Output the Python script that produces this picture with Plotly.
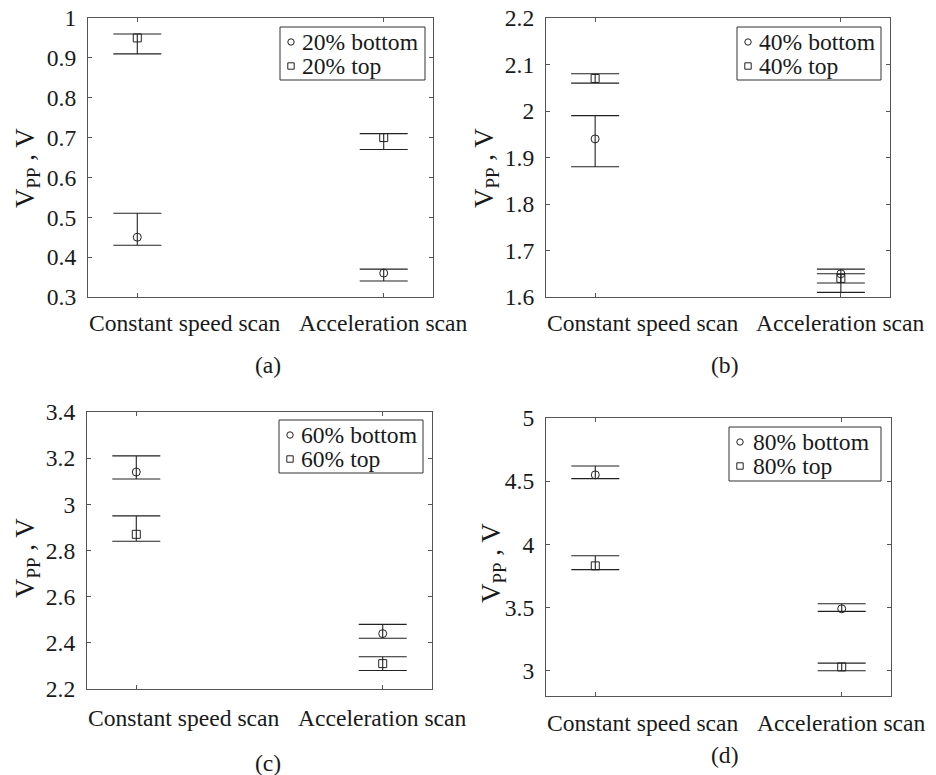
import plotly.graph_objects as go

# ---------------- data ----------------
categories = ["Constant speed scan", "Acceleration scan"]

a_bottom = [0.45, 0.36]
a_bottom_hi = [0.51, 0.37]
a_bottom_lo = [0.43, 0.34]
a_top = [0.95, 0.70]
a_top_hi = [0.96, 0.71]
a_top_lo = [0.91, 0.67]

b_bottom = [1.94, 1.65]
b_bottom_hi = [1.99, 1.66]
b_bottom_lo = [1.88, 1.63]
b_top = [2.07, 1.64]
b_top_hi = [2.08, 1.65]
b_top_lo = [2.06, 1.61]

c_bottom = [3.14, 2.44]
c_bottom_hi = [3.21, 2.48]
c_bottom_lo = [3.11, 2.42]
c_top = [2.87, 2.31]
c_top_hi = [2.95, 2.34]
c_top_lo = [2.84, 2.28]

d_bottom = [4.55, 3.49]
d_bottom_hi = [4.62, 3.53]
d_bottom_lo = [4.52, 3.47]
d_top = [3.83, 3.03]
d_top_hi = [3.91, 3.06]
d_top_lo = [3.80, 3.00]

levels = ["20%", "40%", "60%", "80%"]
panel_labels = ["(a)", "(b)", "(c)", "(d)"]
y_ranges = [[0.3, 1.0], [1.6, 2.2], [2.2, 3.4], [2.8, 5.0]]
y_dticks = [0.1, 0.1, 0.2, 0.5]
y_tick0 = [0.3, 1.6, 2.2, 3.0]

panels = [
    (a_bottom, a_bottom_hi, a_bottom_lo, a_top, a_top_hi, a_top_lo),
    (b_bottom, b_bottom_hi, b_bottom_lo, b_top, b_top_hi, b_top_lo),
    (c_bottom, c_bottom_hi, c_bottom_lo, c_top, c_top_hi, c_top_lo),
    (d_bottom, d_bottom_hi, d_bottom_lo, d_top, d_top_hi, d_top_lo),
]

# ---------------- layout geometry (window pixels) ----------------
W, H = 936, 775


def px(x):
    return x / W


def py(y):
    return 1 - y / H


# plot boxes: left, right, top, bottom
boxes = [(88, 433, 18, 297), (546, 890, 18, 297), (87, 432, 412, 689), (546, 891, 418, 696)]
# legend boxes: left, right, top, bottom
leg_boxes = [(280, 425, 27, 80), (737, 881, 27, 80), (279, 423, 420, 473), (729, 881, 427, 481)]
leg_text_dx = [20, 20, 20, 22]
ytitle_pos = [(27, 168), (486, 168), (27, 558), (493, 563)]
plabel_pos = [(268, 365), (725, 365), (268, 763), (725, 755)]
xlabel_gap = [26, 26, 29, 27]

FONT = "Liberation Serif"
FS = 23.6
AXC = "#555555"
MARKC = "#222222"
TXT = "#1a1a1a"

fig = go.Figure()
annotations = []
shapes = []
layout = {}

for i, (bot, bhi, blo, top, thi, tlo) in enumerate(panels):
    n = "" if i == 0 else str(i + 1)
    xa, ya = "x" + n, "y" + n
    names = [f"{levels[i]} bottom", f"{levels[i]} top"]
    fig.add_trace(go.Scatter(
        x=categories, y=bot, mode="markers", name=names[0],
        xaxis=xa, yaxis=ya, showlegend=False,
        marker=dict(symbol="circle-open", size=8, color=MARKC, line=dict(width=1, color=MARKC)),
        error_y=dict(type="data", symmetric=False,
                     array=[h - v for h, v in zip(bhi, bot)],
                     arrayminus=[v - l for v, l in zip(bot, blo)],
                     color=MARKC, thickness=1.1, width=24),
    ))
    fig.add_trace(go.Scatter(
        x=categories, y=top, mode="markers", name=names[1],
        xaxis=xa, yaxis=ya, showlegend=False,
        marker=dict(symbol="square-open", size=8, color=MARKC, line=dict(width=1, color=MARKC)),
        error_y=dict(type="data", symmetric=False,
                     array=[h - v for h, v in zip(thi, top)],
                     arrayminus=[v - l for v, l in zip(top, tlo)],
                     color=MARKC, thickness=1.1, width=24),
    ))

    L, R, T, B = boxes[i]
    layout["xaxis" + n] = dict(
        domain=[px(L), px(R)], anchor=ya, type="category",
        range=[-0.2, 1.2], showline=True, linecolor=AXC, linewidth=1,
        mirror="ticks", ticks="inside", ticklen=4, tickcolor=AXC,
        showgrid=False, zeroline=False, automargin=False,
        showticklabels=False,
    )
    layout["yaxis" + n] = dict(
        domain=[py(B), py(T)], anchor=xa,
        range=y_ranges[i], tick0=y_tick0[i], dtick=y_dticks[i],
        showline=True, linecolor=AXC, linewidth=1,
        mirror="ticks", ticks="inside", ticklen=4, tickcolor=AXC,
        showgrid=False, zeroline=False, automargin=False,
        ticklabelstandoff=6, ticklabeloverflow="allow",
        tickfont=dict(family=FONT, size=FS, color=TXT),
    )
    # category labels on the category axis (first one sits right of its tick, as in the reference)
    for j, cat in enumerate(categories):
        annotations.append(dict(
            x=cat, xref=xa, y=0, yref=ya + " domain",
            text=cat, showarrow=False,
            xanchor="left" if j == 0 else "center", xshift=-50 if j == 0 else 0,
            yanchor="middle", yshift=-xlabel_gap[i],
            font=dict(family=FONT, size=FS, color=TXT),
        ))

    # legend box
    lL, lR, lT, lB = leg_boxes[i]
    shapes.append(dict(type="rect", xref="paper", yref="paper",
                       x0=px(lL), x1=px(lR), y0=py(lB), y1=py(lT),
                       line=dict(color="#333333", width=1), fillcolor="white", layer="above"))
    rows = [lT + 15, lT + 39]
    sx = lL + 11
    r = 3.2
    shapes.append(dict(type="circle", xref="paper", yref="paper",
                       x0=px(sx - r), x1=px(sx + r), y0=py(rows[0] + r), y1=py(rows[0] - r),
                       line=dict(color=MARKC, width=1), layer="above"))
    shapes.append(dict(type="rect", xref="paper", yref="paper",
                       x0=px(sx - r), x1=px(sx + r), y0=py(rows[1] + r), y1=py(rows[1] - r),
                       line=dict(color=MARKC, width=1), layer="above"))
    for k in range(2):
        annotations.append(dict(
            x=px(lL + leg_text_dx[i]), y=py(rows[k]), xref="paper", yref="paper",
            text=names[k], showarrow=False, xanchor="left", yanchor="middle",
            font=dict(family=FONT, size=FS, color=TXT),
        ))

    tx, ty = ytitle_pos[i]
    annotations.append(dict(
        x=px(tx), y=py(ty), xref="paper", yref="paper",
        text="V<sub>PP</sub> , V", textangle=-90, showarrow=False,
        font=dict(family=FONT, size=27, color=TXT),
        xanchor="center", yanchor="middle",
    ))
    qx, qy = plabel_pos[i]
    annotations.append(dict(
        x=px(qx), y=py(qy), xref="paper", yref="paper",
        text=panel_labels[i], showarrow=False,
        font=dict(family=FONT, size=FS, color=TXT),
        xanchor="center", yanchor="middle",
    ))

fig.update_layout(
    template="none",
    width=W, height=H, margin=dict(l=0, r=0, t=0, b=0, autoexpand=False),
    paper_bgcolor="white", plot_bgcolor="white",
    font=dict(family=FONT, size=FS, color=TXT),
    showlegend=False, annotations=annotations, shapes=shapes, **layout,
)

# remove the browser's default page margin so the figure fills the window exactly
fig.write_html("out.html", config={"displayModeBar": False},
               post_script="document.body.style.margin='0';")
